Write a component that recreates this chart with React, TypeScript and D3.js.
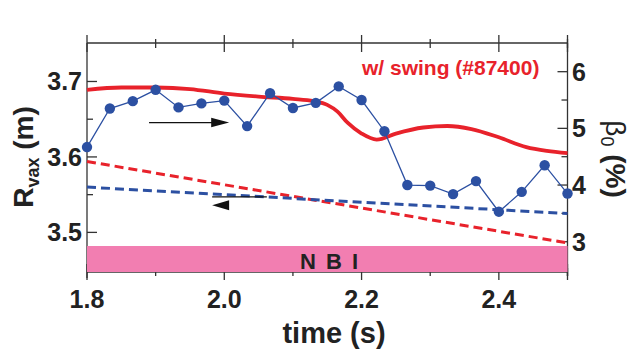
import React from 'react';
import * as d3 from 'd3';

// beta0 (%) measured points, right axis
const betaTime = [1.8, 1.8333, 1.8667, 1.9, 1.9333, 1.9667, 2.0, 2.0333, 2.0667, 2.1, 2.1333,
  2.1667, 2.2, 2.2333, 2.2667, 2.3, 2.3333, 2.3667, 2.4, 2.4333, 2.4667, 2.5];
const betaValues = [4.67, 5.35, 5.48, 5.68, 5.37, 5.44, 5.49, 5.04, 5.62, 5.36, 5.45,
  5.74, 5.50, 4.95, 4.00, 3.99, 3.84, 4.07, 3.53, 3.88, 4.35, 3.85];

// Rvax with swing (red solid), left axis
const swingTime = [1.8, 1.85, 1.9, 1.95, 2.0, 2.05, 2.1, 2.13, 2.15, 2.165, 2.18, 2.2, 2.222,
  2.25, 2.29, 2.325, 2.36, 2.4, 2.44, 2.47, 2.5];
const swingR = [3.689, 3.692, 3.692, 3.690, 3.684, 3.680, 3.677, 3.674, 3.669, 3.660, 3.645,
  3.631, 3.623, 3.631, 3.639, 3.641, 3.637, 3.626, 3.613, 3.608, 3.605];

// dashed reference lines, left axis
const refTime = [1.8, 2.5];
const refRRed = [3.594, 3.486];
const refRBlue = [3.560, 3.525];

const xTicks = [1.8, 2.0, 2.2, 2.4];
const leftTicks = [3.5, 3.6, 3.7];
const rightTicks = [3, 4, 5, 6];

const W = 633;
const H = 349;
const FONT = '"Liberation Sans", Arial, Helvetica, sans-serif';
const RED = '#e8222b';
const BLUE = '#2c50a2';
const AXIS = '#333';

export default function App() {
  const x = d3.scaleLinear().domain([1.8, 2.5]).range([87, 567.5]);
  const yL = d3.scaleLinear().domain([3.4475, 3.751]).range([272, 43]);
  const yR = d3.scaleLinear().domain([2.466, 6.506]).range([272, 43]);

  const lineL = d3.line<[number, number]>().x(d => x(d[0])).y(d => yL(d[1]));
  const swingLine = d3.line<[number, number]>().x(d => x(d[0])).y(d => yL(d[1])).curve(d3.curveMonotoneX);
  const betaLine = d3.line<[number, number]>().x(d => x(d[0])).y(d => yR(d[1]));

  const betaPts = betaTime.map((t, i) => [t, betaValues[i]] as [number, number]);
  const swingPts = swingTime.map((t, i) => [t, swingR[i]] as [number, number]);
  const redPts = refTime.map((t, i) => [t, refRRed[i]] as [number, number]);
  const bluePts = refTime.map((t, i) => [t, refRBlue[i]] as [number, number]);

  const [x0, x1] = x.range();
  const top = 43, bottom = 272;

  const minorX = d3.range(1.9, 2.5, 0.2);
  const minorL = [3.55, 3.65];
  const minorR = [3.5, 4.5, 5.5];

  // arrows (data coords)
  const ra = { t0: 1.8904, t1: 2.0071, r: 3.6456 };
  const la = { t0: 1.9823, t1: 2.062, r: 3.547, rh: 3.536 };

  return (
    <svg width={W} height={H} style={{ position: 'absolute', left: 0, top: 0, background: '#fff' }}
      fontFamily={FONT}>
      {/* frame */}
      <line x1={x0} x2={x1} y1={top} y2={top} stroke={AXIS} strokeWidth={1.3} />
      <line x1={x0} x2={x0} y1={top} y2={bottom + 6} stroke={AXIS} strokeWidth={1.3} />
      <line x1={x1} x2={x1} y1={top} y2={bottom + 4} stroke={AXIS} strokeWidth={1.3} />
      <line x1={x0} x2={x1} y1={bottom} y2={bottom} stroke={AXIS} strokeWidth={1.3} />

      {/* x ticks */}
      {[...xTicks, 2.5].map(t => (
        <g key={'xt' + t}>
          <line x1={x(t)} x2={x(t)} y1={top - 8} y2={top + 9} stroke={AXIS} strokeWidth={1.3} />
          <line x1={x(t)} x2={x(t)} y1={bottom - 8} y2={bottom + 8} stroke={AXIS} strokeWidth={1.3} />
        </g>
      ))}
      {minorX.map(t => (
        <g key={'xm' + t}>
          <line x1={x(t)} x2={x(t)} y1={top - 4} y2={top + 5} stroke={AXIS} strokeWidth={1.3} />
          <line x1={x(t)} x2={x(t)} y1={bottom - 4} y2={bottom + 4} stroke={AXIS} strokeWidth={1.3} />
        </g>
      ))}
      {xTicks.map(t => (
        <text key={'xl' + t} x={x(t)} y={308} textAnchor="middle" fontSize={25} fontWeight="bold" fill="#222">
          {d3.format('.1f')(t)}
        </text>
      ))}

      {/* left ticks */}
      {leftTicks.map(v => (
        <g key={'lt' + v}>
          <line x1={x0} x2={x0 + 10} y1={yL(v)} y2={yL(v)} stroke={AXIS} strokeWidth={1.3} />
          <text x={82} y={yL(v)} dy="0.36em" textAnchor="end" fontSize={25} fontWeight="bold" fill="#222">
            {d3.format('.1f')(v)}
          </text>
        </g>
      ))}
      {minorL.map(v => (
        <line key={'lm' + v} x1={x0} x2={x0 + 6} y1={yL(v)} y2={yL(v)} stroke={AXIS} strokeWidth={1.3} />
      ))}

      {/* right ticks */}
      {rightTicks.map(v => (
        <g key={'rt' + v}>
          <line x1={x1 - 10} x2={x1} y1={yR(v)} y2={yR(v)} stroke={AXIS} strokeWidth={1.3} />
          <text x={572} y={yR(v)} dy="0.36em" textAnchor="start" fontSize={25} fontWeight="bold" fill="#222">
            {v}
          </text>
        </g>
      ))}
      {minorR.map(v => (
        <line key={'rm' + v} x1={x1 - 6} x2={x1} y1={yR(v)} y2={yR(v)} stroke={AXIS} strokeWidth={1.3} />
      ))}

      {/* NBI bar */}
      <rect x={x0} y={246} width={x1 - x0} height={bottom - 246} fill="#f27eb1" />
      <text x={330} y={269} textAnchor="middle" fontSize={22} fontWeight="bold" fill="#222" letterSpacing={2}>
        N B I
      </text>

      {/* dashed references */}
      <path d={lineL(redPts) || ''} fill="none" stroke={RED} strokeWidth={3} strokeDasharray="9,5" />
      <path d={lineL(bluePts) || ''} fill="none" stroke={BLUE} strokeWidth={3} strokeDasharray="9,5" />

      {/* swing line */}
      <path d={swingLine(swingPts) || ''} fill="none" stroke={RED} strokeWidth={3.8} />

      {/* beta points */}
      <path d={betaLine(betaPts) || ''} fill="none" stroke={BLUE} strokeWidth={1.3} />
      {betaPts.map((d, i) => (
        <circle key={'b' + i} cx={x(d[0])} cy={yR(d[1])} r={5.2} fill={BLUE} />
      ))}

      {/* arrows */}
      <line x1={x(ra.t0)} x2={x(ra.t1) - 14} y1={yL(ra.r)} y2={yL(ra.r)} stroke="#111" strokeWidth={1.3} />
      <path d={`M${x(ra.t1)},${yL(ra.r)} L${x(ra.t1) - 18},${yL(ra.r) - 4.7} L${x(ra.t1) - 18},${yL(ra.r) + 4.7} Z`} fill="#111" />
      <line x1={x(la.t0)} x2={x(la.t1)} y1={yL(la.r)} y2={yL(la.r)} stroke="#111" strokeWidth={1.3} />
      <path d={`M${x(la.t0)},${yL(la.rh)} L${x(la.t0) + 17},${yL(la.rh) - 5} L${x(la.t0) + 17},${yL(la.rh) + 5} Z`} fill="#111" />

      {/* legend label */}
      <text x={362} y={75} fontSize={21} fontWeight="bold" fill={RED}>w/ swing (#87400)</text>

      {/* axis titles */}
      <text transform="translate(33,157) rotate(-90)" textAnchor="middle" fontSize={28} fontWeight="bold" fill="#222">
        R<tspan fontSize={18} dy={6}>vax</tspan><tspan dy={-6}> (m)</tspan>
      </text>
      <text transform="translate(606,159) rotate(90)" textAnchor="middle" fontSize={28} fontWeight="bold" fill="#222">
        <tspan fontWeight="normal">β</tspan><tspan fontSize={18} fontWeight="normal" dy={5}>0</tspan><tspan dy={-5}> (%)</tspan>
      </text>
      <text x={334} y={343} textAnchor="middle" fontSize={29} fontWeight="bold" fill="#222">time (s)</text>
    </svg>
  );
}
